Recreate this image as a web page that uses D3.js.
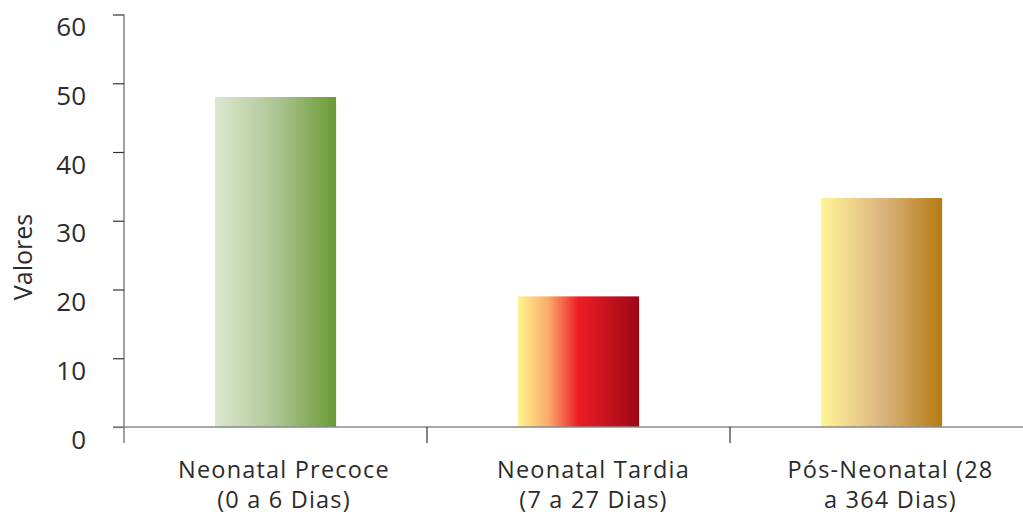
<!DOCTYPE html>
<html>
<head>
<meta charset="utf-8">
<script src="https://cdn.jsdelivr.net/npm/d3@7"></script>
<style>
  html, body { margin: 0; padding: 0; background: #fff; }
  svg { display: block; font-family: "Open Sans", Lato, sans-serif; }
</style>
</head>
<body>
<svg id="chart" width="1023" height="519"></svg>
<script>
// Infant mortality by age group
const categories = ["Neonatal Precoce", "Neonatal Tardia", "Pós-Neonatal (28"];
const categoryLines = [
  ["Neonatal Precoce", "(0 a 6 Dias)"],
  ["Neonatal Tardia", "(7 a 27 Dias)"],
  ["Pós-Neonatal (28", "a 364 Dias)"]
];
const values = [48, 19, 33.3];
const yTicks = [0, 10, 20, 30, 40, 50, 60];
const yLabel = "Valores";

// horizontal gradient stops per bar
const gradients = [
  [["0%", "#dde7cf"], ["50%", "#aec695"], ["100%", "#6a9a32"]],
  [["0%", "#fff48e"], ["25%", "#f9ab6c"], ["50%", "#ee1c25"], ["100%", "#9d0816"]],
  [["0%", "#fff598"], ["50%", "#dcb47f"], ["100%", "#b67b12"]]
];

// layout
const x0 = 124, x1 = 1033, yTop = 14.5, yZero = 427;
const labelShift = [8.5, 15, 9];

const svg = d3.select("#chart");
const x = d3.scaleBand().domain(categories).range([x0, x1]).padding(0);
const y = d3.scaleLinear().domain([0, 60]).range([yZero, yTop]);

const defs = svg.append("defs");
gradients.forEach((stops, i) => {
  const g = defs.append("linearGradient")
    .attr("id", "grad" + i)
    .attr("x1", "0%").attr("x2", "100%").attr("y1", "0%").attr("y2", "0%");
  stops.forEach(([o, c]) => g.append("stop").attr("offset", o).attr("stop-color", c));
});

// bars
const bw = x.bandwidth();
svg.append("g").selectAll("rect")
  .data(values)
  .join("rect")
  .attr("x", (d, i) => x(categories[i]) + bw * 0.3)
  .attr("width", bw * 0.4)
  .attr("y", d => y(d))
  .attr("height", d => yZero - y(d))
  .attr("fill", (d, i) => `url(#grad${i})`);

// y axis
const yAxis = svg.append("g")
  .attr("transform", `translate(${x0},0)`)
  .call(d3.axisLeft(y).tickValues(yTicks).tickSize(11).tickPadding(0).tickFormat(d3.format("d")));
yAxis.select(".domain").attr("stroke", "#8a8a8a").attr("stroke-width", 1.6)
  .attr("d", `M0,${yTop}V${yZero + 16}`);
yAxis.selectAll(".tick line").attr("stroke", "#333").attr("stroke-width", 1.2);
yAxis.selectAll(".tick text")
  .attr("x", -38).attr("y", 21).attr("dy", 0)
  .attr("fill", "#2b2b2b")
  .style("font-size", "26px").style("font-family", "'Open Sans', sans-serif");

// x axis
const xAxis = svg.append("g")
  .attr("transform", `translate(0,${yZero})`)
  .call(d3.axisBottom(x).tickSize(0).tickFormat(""));
xAxis.select(".domain").attr("stroke", "#8a8a8a").attr("stroke-width", 1.6)
  .attr("d", `M${x0 - 11},0H1023`);

// category boundary ticks
const bounds = categories.map(c => x(c)).slice(1);
svg.append("g").selectAll("line")
  .data(bounds)
  .join("line")
  .attr("x1", d => d).attr("x2", d => d)
  .attr("y1", yZero).attr("y2", yZero + 16)
  .attr("stroke", "#333").attr("stroke-width", 1.2);

// category labels
const lbl = svg.append("g").selectAll("text")
  .data(categoryLines)
  .join("text")
  .attr("text-anchor", "middle")
  .attr("fill", "#2b2b2b")
  .style("font-size", "23.5px")
  .style("letter-spacing", "1.2px");
lbl.each(function(lines, i) {
  const cx = x(categories[i]) + bw / 2 + labelShift[i];
  d3.select(this).selectAll("tspan")
    .data(lines)
    .join("tspan")
    .attr("x", cx)
    .attr("y", (d, j) => 478 + j * 30)
    .text(d => d);
});

// y axis title
svg.append("text")
  .attr("transform", "translate(32,257) rotate(-90)")
  .attr("text-anchor", "middle")
  .attr("fill", "#2b2b2b")
  .style("font-size", "25px")
  .text(yLabel);
</script>
</body>
</html>
